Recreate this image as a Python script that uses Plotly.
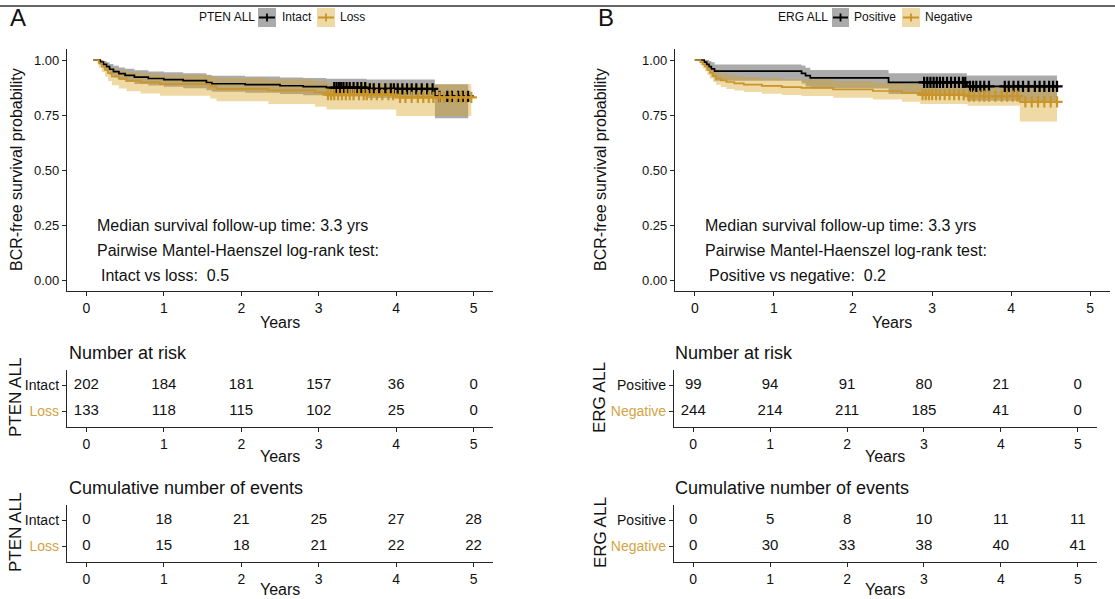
import numpy as np
import plotly.graph_objects as go

# ---------------- data ----------------
# Panel A: PTEN ALL
A_INTACT_T = [0.09, 0.18, 0.22, 0.26, 0.30, 0.35, 0.42, 0.50, 0.62, 0.80, 1.00, 1.25, 1.55, 1.62, 2.05, 2.50, 2.80, 3.10, 3.62, 4.50, 4.93]
A_INTACT_S = [1.0, 0.99, 0.98, 0.97, 0.958, 0.947, 0.938, 0.93, 0.922, 0.916, 0.911, 0.906, 0.897, 0.892, 0.888, 0.883, 0.879, 0.874, 0.869, 0.835, 0.835]
A_INTACT_LO = [1.0, 0.976, 0.961, 0.948, 0.933, 0.92, 0.909, 0.90, 0.891, 0.884, 0.878, 0.872, 0.862, 0.856, 0.851, 0.845, 0.84, 0.834, 0.827, 0.735, 0.735]
A_INTACT_HI = [1.0, 1.0, 0.995, 0.99, 0.982, 0.974, 0.966, 0.96, 0.953, 0.948, 0.944, 0.94, 0.932, 0.928, 0.925, 0.921, 0.918, 0.915, 0.911, 0.89, 0.89]
A_INTACT_CENSOR = [3.20, 3.23, 3.26, 3.29, 3.32, 3.36, 3.40, 3.45, 3.50, 3.55, 3.60, 3.66, 3.71, 3.78, 3.86, 3.93, 3.97, 4.02, 4.08, 4.14, 4.20, 4.26, 4.33, 4.40, 4.47, 4.56, 4.66, 4.72, 4.80, 4.86, 4.93]

A_LOSS_T = [0.09, 0.16, 0.20, 0.24, 0.28, 0.33, 0.42, 0.52, 0.70, 0.95, 1.60, 1.68, 2.35, 2.95, 3.10, 4.00, 4.97]
A_LOSS_S = [1.0, 0.985, 0.97, 0.955, 0.94, 0.925, 0.915, 0.906, 0.898, 0.89, 0.88, 0.869, 0.862, 0.853, 0.843, 0.83, 0.83]
A_LOSS_LO = [1.0, 0.965, 0.945, 0.925, 0.905, 0.885, 0.87, 0.858, 0.848, 0.838, 0.825, 0.812, 0.80, 0.788, 0.775, 0.745, 0.745]
A_LOSS_HI = [1.0, 0.998, 0.99, 0.98, 0.97, 0.96, 0.953, 0.946, 0.94, 0.933, 0.925, 0.918, 0.912, 0.905, 0.896, 0.89, 0.89]
A_LOSS_CENSOR = [3.12, 3.16, 3.20, 3.25, 3.30, 3.35, 3.40, 3.45, 3.52, 3.58, 3.62, 3.68, 3.75, 3.82, 3.90, 3.96, 4.05, 4.12, 4.20, 4.28, 4.35, 4.42, 4.48, 4.56, 4.62, 4.70, 4.78, 4.84, 4.90, 4.97]

# Panel B: ERG ALL
B_POS_T = [0.0, 0.12, 0.15, 0.18, 0.21, 0.25, 1.35, 1.40, 1.46, 2.45, 3.44, 4.58]
B_POS_S = [1.0, 0.99, 0.98, 0.97, 0.96, 0.949, 0.939, 0.929, 0.919, 0.898, 0.88, 0.88]
B_POS_LO = [1.0, 0.97, 0.953, 0.937, 0.922, 0.906, 0.893, 0.88, 0.87, 0.845, 0.815, 0.815]
B_POS_HI = [1.0, 1.0, 1.0, 0.995, 0.99, 0.98, 0.975, 0.965, 0.955, 0.94, 0.93, 0.93]
B_POS_CENSOR = [2.90, 2.94, 2.98, 3.02, 3.06, 3.10, 3.14, 3.19, 3.24, 3.29, 3.34, 3.39, 3.42, 3.48, 3.52, 3.56, 3.61, 3.66, 3.72, 3.92, 3.97, 4.03, 4.09, 4.15, 4.22, 4.30, 4.36, 4.42, 4.48, 4.53, 4.58]

B_NEG_T = [0.0, 0.07, 0.10, 0.13, 0.16, 0.19, 0.23, 0.27, 0.33, 0.40, 0.50, 0.62, 0.85, 1.10, 1.35, 1.75, 2.25, 2.62, 2.85, 3.45, 4.11, 4.58]
B_NEG_S = [1.0, 0.99, 0.98, 0.97, 0.955, 0.942, 0.928, 0.916, 0.907, 0.90, 0.894, 0.888, 0.882, 0.877, 0.873, 0.866, 0.859, 0.85, 0.842, 0.836, 0.81, 0.81]
B_NEG_LO = [1.0, 0.977, 0.962, 0.949, 0.931, 0.916, 0.90, 0.887, 0.877, 0.868, 0.861, 0.854, 0.847, 0.841, 0.836, 0.828, 0.82, 0.81, 0.80, 0.792, 0.72, 0.72]
B_NEG_HI = [1.0, 1.0, 0.995, 0.99, 0.98, 0.97, 0.958, 0.947, 0.939, 0.933, 0.928, 0.923, 0.918, 0.914, 0.911, 0.905, 0.899, 0.891, 0.885, 0.88, 0.87, 0.87]
B_NEG_CENSOR = [2.88, 2.92, 2.96, 3.00, 3.05, 3.10, 3.16, 3.22, 3.28, 3.34, 3.40, 3.47, 3.53, 3.60, 3.66, 3.72, 3.80, 3.88, 3.95, 4.02, 4.08, 4.18, 4.26, 4.34, 4.42, 4.50, 4.58]

# Tables
TABLE_TIMES = [0, 1, 2, 3, 4, 5]
A_RISK_INTACT = [202, 184, 181, 157, 36, 0]
A_RISK_LOSS = [133, 118, 115, 102, 25, 0]
A_EVENTS_INTACT = [0, 18, 21, 25, 27, 28]
A_EVENTS_LOSS = [0, 15, 18, 21, 22, 22]
B_RISK_POS = [99, 94, 91, 80, 21, 0]
B_RISK_NEG = [244, 214, 211, 185, 41, 0]
B_EVENTS_POS = [0, 5, 8, 10, 11, 11]
B_EVENTS_NEG = [0, 30, 33, 38, 40, 41]

Y_TICKS = [0, 0.25, 0.5, 0.75, 1.0]
Y_TICK_LABELS = ["0.00", "0.25", "0.50", "0.75", "1.00"]
X_TICKS = [0, 1, 2, 3, 4, 5]

# ---------------- styling ----------------
W, H = 1115, 599
FONT = "Liberation Sans, Arial, sans-serif"
BLACK = "#000000"
ORANGE = "#C99428"
LABEL_ORANGE = "#D2A445"
GRAY_FILL = "rgba(0,0,0,0.33)"
TAN_FILL = "rgba(215,160,30,0.40)"
AXIS_COLOR = "#262626"
TEXT_COLOR = "#111111"


def pxx(x):
    return x / W


def pxy(y):
    return 1 - y / H


fig = go.Figure()


def step_value(times, surv, t):
    idx = np.searchsorted(np.asarray(times), t, side="right") - 1
    return surv[max(idx, 0)]


def add_km(groups, xa, ya):
    for g in groups:
        fig.add_trace(go.Scatter(x=g["t"], y=g["hi"], mode="lines", line=dict(width=0, shape="hv"),
                                 xaxis=xa, yaxis=ya, hoverinfo="skip", showlegend=False))
        fig.add_trace(go.Scatter(x=g["t"], y=g["lo"], mode="lines", line=dict(width=0, shape="hv"),
                                 fill="tonexty", fillcolor=g["fill"],
                                 xaxis=xa, yaxis=ya, hoverinfo="skip", showlegend=False))
    for g in groups:
        fig.add_trace(go.Scatter(x=g["t"], y=g["s"], mode="lines",
                                 line=dict(color=g["color"], width=1.7, shape="hv"),
                                 xaxis=xa, yaxis=ya, name=g["name"], showlegend=False))
    for g in groups:
        cy = [step_value(g["t"], g["s"], c) for c in g["cens"]]
        fig.add_trace(go.Scatter(x=g["cens"], y=cy, mode="markers",
                                 marker=dict(symbol="cross-thin", size=8,
                                             line=dict(color=g["color"], width=2.2)),
                                 xaxis=xa, yaxis=ya, showlegend=False, hoverinfo="skip"))


add_km([
    dict(name="Intact", t=A_INTACT_T, s=A_INTACT_S, lo=A_INTACT_LO, hi=A_INTACT_HI, cens=A_INTACT_CENSOR,
         color=BLACK, fill=GRAY_FILL),
    dict(name="Loss", t=A_LOSS_T, s=A_LOSS_S, lo=A_LOSS_LO, hi=A_LOSS_HI, cens=A_LOSS_CENSOR,
         color=ORANGE, fill=TAN_FILL),
], "x", "y")

add_km([
    dict(name="Positive", t=B_POS_T, s=B_POS_S, lo=B_POS_LO, hi=B_POS_HI, cens=B_POS_CENSOR,
         color=BLACK, fill=GRAY_FILL),
    dict(name="Negative", t=B_NEG_T, s=B_NEG_S, lo=B_NEG_LO, hi=B_NEG_HI, cens=B_NEG_CENSOR,
         color=ORANGE, fill=TAN_FILL),
], "x2", "y2")


def add_table(top_vals, bottom_vals, xa, ya):
    for row, vals in ((2, top_vals), (1, bottom_vals)):
        fig.add_trace(go.Scatter(x=TABLE_TIMES, y=[row] * len(vals), mode="text",
                                 text=[str(v) for v in vals],
                                 textfont=dict(family=FONT, size=15, color=TEXT_COLOR),
                                 xaxis=xa, yaxis=ya, showlegend=False, hoverinfo="skip"))


add_table(A_RISK_INTACT, A_RISK_LOSS, "x3", "y3")
add_table(B_RISK_POS, B_RISK_NEG, "x4", "y4")
add_table(A_EVENTS_INTACT, A_EVENTS_LOSS, "x5", "y5")
add_table(B_EVENTS_POS, B_EVENTS_NEG, "x6", "y6")

axis_common = dict(showline=True, linecolor=AXIS_COLOR, linewidth=1.3, ticks="outside", ticklen=4,
                   tickcolor=AXIS_COLOR, tickwidth=1.1, showgrid=False, zeroline=False,
                   tickfont=dict(family=FONT, size=13, color=TEXT_COLOR))

MAIN_A_X = (67, 493)
MAIN_B_X = (675, 1110)
TAB_A_X = (67, 493)
TAB_B_X = (674, 1097)
MAIN_Y = (49, 291)
RISK_Y = (370, 427)
CUM_Y = (505, 562)


def xdom(p):
    return [pxx(p[0]), pxx(p[1])]


def ydom(p):
    return [pxy(p[1]), pxy(p[0])]


layout = dict(width=W, height=H, margin=dict(l=0, r=0, t=0, b=0), showlegend=False,
              plot_bgcolor="white", paper_bgcolor="white", font=dict(family=FONT))

for i, (xd, yd) in enumerate([(MAIN_A_X, MAIN_Y), (MAIN_B_X, MAIN_Y)], start=1):
    sfx = "" if i == 1 else str(i)
    layout["xaxis" + sfx] = dict(axis_common, domain=xdom(xd), range=[-0.25, 5.25], tickvals=X_TICKS,
                                 anchor="y" + sfx, tickfont=dict(family=FONT, size=14, color=TEXT_COLOR))
    layout["yaxis" + sfx] = dict(axis_common, domain=ydom(yd), range=[-0.05, 1.05], tickvals=Y_TICKS,
                                 ticktext=Y_TICK_LABELS, anchor="x" + sfx)

table_specs = [
    (3, TAB_A_X, RISK_Y, "Intact", "Loss"),
    (4, TAB_B_X, RISK_Y, "Positive", "Negative"),
    (5, TAB_A_X, CUM_Y, "Intact", "Loss"),
    (6, TAB_B_X, CUM_Y, "Positive", "Negative"),
]
for n, xd, yd, top, bottom in table_specs:
    layout["xaxis%d" % n] = dict(axis_common, domain=xdom(xd), range=[-0.25, 5.25], tickvals=X_TICKS,
                                 anchor="y%d" % n, tickfont=dict(family=FONT, size=14, color=TEXT_COLOR))
    layout["yaxis%d" % n] = dict(axis_common, domain=ydom(yd), range=[0.4, 2.6], tickvals=[1, 2],
                                 ticktext=["<span style='color:%s'>%s</span>" % (LABEL_ORANGE, bottom), top],
                                 anchor="x%d" % n, tickfont=dict(family=FONT, size=14, color=TEXT_COLOR))

annotations = []


def txt(text, x, y, size, xanchor="left", angle=0, color=TEXT_COLOR, xref="paper", yref="paper"):
    annotations.append(dict(text=text, x=x, y=y, xref=xref, yref=yref, xanchor=xanchor, yanchor="middle",
                            showarrow=False, textangle=angle,
                            font=dict(family=FONT, size=size, color=color)))


txt("A", pxx(8), pxy(17), 24)
txt("B", pxx(596), pxy(17), 24)

for xa, ya, lab in (("x", "y", "Intact vs loss:  0.5"), ("x2", "y2", "Positive vs negative:  0.2")):
    txt("Median survival follow-up time: 3.3 yrs", 0.11, 0.25, 16, xref=xa, yref=ya)
    txt("Pairwise Mantel-Haenszel log-rank test:", 0.11, 0.136, 16, xref=xa, yref=ya)
    txt(lab, 0.16, 0.022, 16, xref=xa, yref=ya)

txt("BCR-free survival probability", pxx(17), pxy(170), 16, xanchor="center", angle=-90)
txt("BCR-free survival probability", pxx(601), pxy(170), 16, xanchor="center", angle=-90)
txt("Years", pxx(280), pxy(322), 16, xanchor="center")
txt("Years", pxx(892), pxy(322), 16, xanchor="center")
txt("Years", pxx(280), pxy(457), 16, xanchor="center")
txt("Years", pxx(885), pxy(457), 16, xanchor="center")
txt("Years", pxx(280), pxy(589), 16, xanchor="center")
txt("Years", pxx(885), pxy(589), 16, xanchor="center")

txt("Number at risk", pxx(67), pxy(353), 18)
txt("Number at risk", pxx(673), pxy(353), 18)
txt("Cumulative number of events", pxx(67), pxy(488), 18)
txt("Cumulative number of events", pxx(673), pxy(488), 18)

txt("PTEN ALL", pxx(15), pxy(398), 17, xanchor="center", angle=-90)
txt("PTEN ALL", pxx(15), pxy(533), 17, xanchor="center", angle=-90)
txt("ERG ALL", pxx(599), pxy(398), 17, xanchor="center", angle=-90)
txt("ERG ALL", pxx(600), pxy(533), 17, xanchor="center", angle=-90)

shapes = []


def legend_key(x0, x1, fill, color):
    shapes.append(dict(type="rect", xref="paper", yref="paper", x0=pxx(x0), x1=pxx(x1), y0=pxy(27), y1=pxy(8),
                       fillcolor=fill, line=dict(width=0)))
    shapes.append(dict(type="line", xref="paper", yref="paper", x0=pxx(x0 + 1), x1=pxx(x1 - 1), y0=pxy(17.5),
                       y1=pxy(17.5), line=dict(color=color, width=2)))
    xc = (x0 + x1) / 2
    shapes.append(dict(type="line", xref="paper", yref="paper", x0=pxx(xc), x1=pxx(xc), y0=pxy(13.5),
                       y1=pxy(21.5), line=dict(color=color, width=1.8)))


txt("PTEN ALL", pxx(197), pxy(17), 12)
legend_key(258, 276, GRAY_FILL, BLACK)
txt("Intact", pxx(280), pxy(17), 12)
legend_key(317, 335, TAN_FILL, ORANGE)
txt("Loss", pxx(338), pxy(17), 12)

txt("ERG ALL", pxx(776), pxy(17), 12)
legend_key(832, 849, GRAY_FILL, BLACK)
txt("Positive", pxx(852), pxy(17), 12)
legend_key(902, 920, TAN_FILL, ORANGE)
txt("Negative", pxx(923), pxy(17), 12)

shapes.append(dict(type="line", xref="paper", yref="paper", x0=0, x1=1, y0=pxy(6), y1=pxy(6),
                   line=dict(color="#333333", width=1.5)))

layout["annotations"] = annotations
layout["shapes"] = shapes
fig.update_layout(**layout)

fig.write_html("out.html")
